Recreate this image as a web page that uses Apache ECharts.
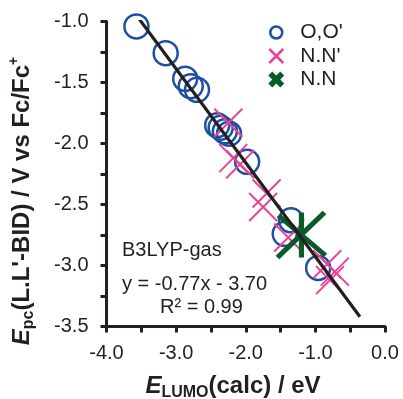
<!DOCTYPE html>
<html>
<head>
<meta charset="utf-8">
<script src="https://cdn.jsdelivr.net/npm/echarts@6/dist/echarts.min.js"></script>
<style>
  html, body { margin: 0; padding: 0; background: #fff; }
  #chart { width: 403px; height: 399px; }
</style>
</head>
<body>
<div id="chart"></div>
<script>
// tick labels
const xTicks = [-4, -3, -2, -1, 0];
const yTicks = [-3.5, -3, -2.5, -2, -1.5, -1];

// O,O' (blue circles)
const ooX = [-3.57, -3.15, -2.87, -2.79, -2.70, -2.41, -2.36, -2.30, -2.24, -1.98, -1.35, -1.44, -0.96];
const ooY = [-1.04, -1.26, -1.47, -1.53, -1.56, -1.85, -1.87, -1.90, -1.92, -2.15, -2.63, -2.74, -3.02];

// N.N' (pink crosses)
const nnpX = [-2.25, -2.18, -2.08, -1.70, -1.75, -1.39, -0.83, -0.72, -0.79];
const nnpY = [-1.83, -2.12, -2.17, -2.41, -2.52, -2.77, -2.99, -3.05, -3.12];

// N.N (green)
const nnX = [-1.20];
const nnY = [-2.75];

// fit line y = -0.77x - 3.70, end points
const fitX = [-3.53, -0.36];
const fitY = [-0.98, -3.42];

const INK = "#231f20";
const BLUE = "#1f4fa3";
const PINK = "#e8449a";
const GREEN = "#0a5a2a";
const FONT = "'Liberation Sans', Arial, sans-serif";

const pair = (xs, ys) => xs.map((x, i) => [x, ys[i]]);

const crossPath = "path://M0,0L20,20M20,0L0,20";
const starPath = "path://M0,45L47,0M1,3L48,43M24,0L24,45";
// legend icons (padded with moves so they keep their size inside the 16x16 box)
const legCircle = "path://M0,0M16,16M2,8A6,6,0,1,1,14,8A6,6,0,1,1,2,8Z";
const legCross = "path://M0,0M16,16M1,1L15,15M15,1L1,15";
const legHeavyX = "path://M0,4L4,0L8,4L12,0L16,4L12,8L16,12L12,16L8,12L4,16L0,12L4,8Z";

const chart = echarts.init(document.getElementById("chart"));

const axisCommon = {
  type: "value",
  axisLine: { show: true, onZero: false, lineStyle: { color: INK, width: 3 } },
  axisTick: { show: true, inside: false, length: 6, lineStyle: { color: INK, width: 3 } },
  minorTick: { show: true, splitNumber: 2, length: 6, lineStyle: { color: INK, width: 3 } },
  splitLine: { show: false },
};

chart.setOption({
  animation: false,
  grid: { left: 106.5, right: 18, top: 21.5, bottom: 72.5, outerBoundsMode: "none" },
  xAxis: {
    ...axisCommon,
    min: -4,
    max: 0,
    interval: 1,
    axisLabel: {
      margin: 17,
      fontSize: 20,
      fontFamily: FONT,
      color: INK,
      formatter: (v) => (xTicks.includes(v) ? v.toFixed(1) : ""),
    },
  },
  yAxis: {
    ...axisCommon,
    min: -3.5,
    max: -1,
    interval: 0.5,
    axisLabel: {
      margin: 18,
      fontSize: 20,
      fontFamily: FONT,
      color: INK,
      padding: [7, 0, 0, 0],
      formatter: (v) => (yTicks.includes(v) ? v.toFixed(1) : ""),
    },
  },
  legend: {
    orient: "vertical",
    left: 262,
    top: 17,
    itemWidth: 16,
    itemHeight: 16,
    itemGap: 2.5,
    textStyle: { fontSize: 21, fontFamily: FONT, color: INK, lineHeight: 20, padding: [0, 0, 0, 11] },
    data: [
      { name: "O,O'", icon: legCircle, itemStyle: { color: "transparent", borderColor: BLUE, borderWidth: 2.5, opacity: 1 } },
      { name: "N.N'", icon: legCross, itemStyle: { color: "transparent", borderColor: PINK, borderWidth: 2.5, opacity: 1 } },
      { name: "N.N", icon: legHeavyX, itemStyle: { color: GREEN, borderWidth: 0, opacity: 1 } },
    ],
  },
  series: [
    {
      name: "O,O'",
      type: "scatter",
      data: pair(ooX, ooY),
      symbol: "circle",
      symbolSize: 24,
      itemStyle: { color: "transparent", borderColor: BLUE, borderWidth: 2.5, opacity: 1 },
      z: 2,
    },
    {
      name: "N.N'",
      type: "scatter",
      data: pair(nnpX, nnpY),
      symbol: crossPath,
      symbolSize: 28,
      itemStyle: { color: "transparent", borderColor: PINK, borderWidth: 2, opacity: 1 },
      z: 3,
    },
    {
      name: "N.N",
      type: "scatter",
      data: pair(nnX, nnY),
      symbol: starPath,
      symbolSize: [48, 45],
      itemStyle: { color: "transparent", borderColor: GREEN, borderWidth: 5, opacity: 1 },
      z: 4,
    },
    {
      name: "fit",
      type: "line",
      data: pair(fitX, fitY),
      symbol: "none",
      lineStyle: { color: INK, width: 3.2 },
      silent: true,
      z: 5,
    },
  ],
  graphic: [
    {
      type: "text",
      x: 122,
      y: 250,
      style: { text: "B3LYP-gas", fontSize: 20, fontFamily: FONT, fill: INK, align: "left", verticalAlign: "middle" },
    },
    {
      type: "text",
      x: 122,
      y: 284,
      style: { text: "y = -0.77x - 3.70", fontSize: 20, fontFamily: FONT, fill: INK, align: "left", verticalAlign: "middle" },
    },
    {
      type: "text",
      x: 160,
      y: 307,
      style: { text: "R² = 0.99", fontSize: 20, fontFamily: FONT, fill: INK, align: "left", verticalAlign: "middle" },
    },
    {
      // y axis title
      type: "text",
      x: 22,
      y: 201,
      rotation: Math.PI / 2,
      style: {
        text: "{e|E}{s|pc}{b|(L.L'-BID) / V vs Fc/Fc}{p|+}",
        align: "center",
        verticalAlign: "middle",
        fill: INK,
        rich: {
          e: { fontSize: 24, fontWeight: "bold", fontStyle: "italic", fontFamily: FONT, lineHeight: 30 },
          s: { fontSize: 16, fontWeight: "bold", fontFamily: FONT, lineHeight: 16, verticalAlign: "bottom" },
          b: { fontSize: 24, fontWeight: "bold", fontFamily: FONT, lineHeight: 30 },
          p: { fontSize: 14, fontWeight: "bold", fontFamily: FONT, lineHeight: 14, verticalAlign: "top" },
        },
      },
    },
    {
      // x axis title
      type: "text",
      x: 233,
      y: 386,
      style: {
        text: "{e|E}{s|LUMO}{b|(calc) / eV}",
        align: "center",
        verticalAlign: "middle",
        fill: INK,
        rich: {
          e: { fontSize: 24, fontWeight: "bold", fontStyle: "italic", fontFamily: FONT, lineHeight: 30 },
          s: { fontSize: 16, fontWeight: "bold", fontFamily: FONT, lineHeight: 16, verticalAlign: "bottom" },
          b: { fontSize: 24, fontWeight: "bold", fontFamily: FONT, lineHeight: 30 },
        },
      },
    },
  ],
});
</script>
</body>
</html>
